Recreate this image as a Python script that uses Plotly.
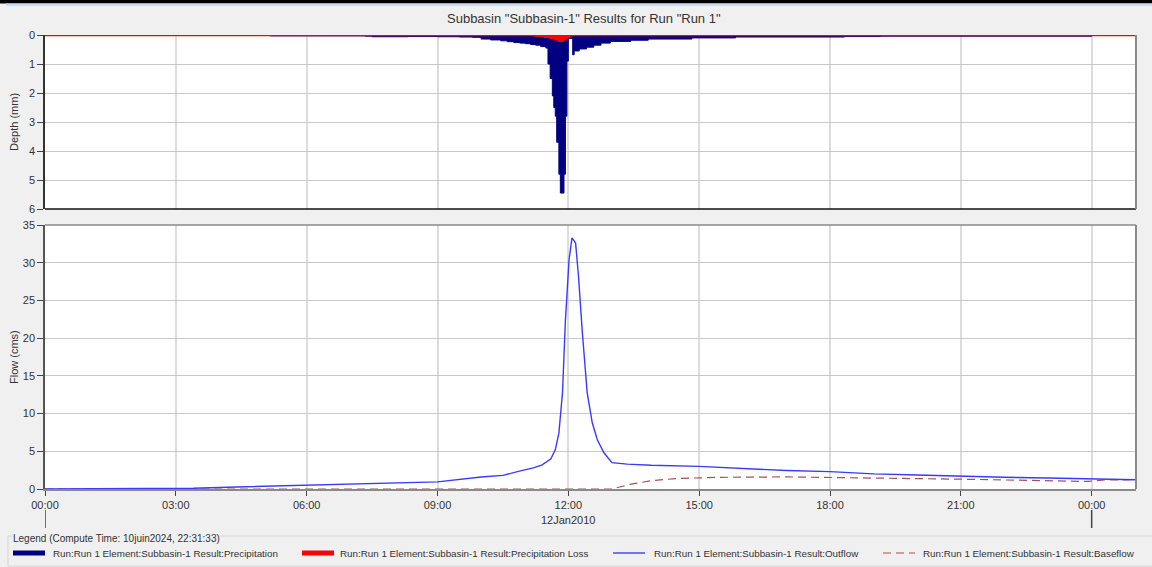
import plotly.graph_objects as go

# ---------------- data ----------------
D1 = "2010-01-12 "
D2 = "2010-01-13 "

precip_time = [D1 + t for t in [
    "00:00", "05:10", "07:20", "07:30", "08:20", "09:00", "09:30", "09:48", "10:00", "10:13",
    "10:27", "10:36", "10:45", "10:53", "11:01", "11:08", "11:15", "11:22", "11:29", "11:32",
    "11:35", "11:38", "11:40", "11:42", "11:44", "11:47", "11:49", "11:54", "11:56", "11:58",
    "12:00", "12:06", "12:08", "12:15", "12:25", "12:35", "12:45", "12:58", "13:26", "13:50",
    "14:50", "15:50", "18:20", "19:10"]] + \
    [D2 + "00:00", D2 + "01:00"]
precip_mm = [0.0, 0.03, 0.04, 0.06, 0.05, 0.06, 0.07, 0.08, 0.14, 0.17,
             0.20, 0.23, 0.26, 0.28, 0.30, 0.33, 0.35, 0.40, 0.45, 1.0,
             1.5, 2.1, 2.5, 2.8, 3.7, 4.8, 5.45, 4.8, 2.8, 0.9,
             0.12, 0.68, 0.55, 0.48, 0.42, 0.35, 0.28, 0.22, 0.18, 0.14,
             0.10, 0.07, 0.05, 0.04,
             0.0, 0.0]

loss_time = [D1 + t for t in ["00:00", "11:15", "11:28", "11:35", "11:42", "11:47",
                              "11:52", "11:56", "11:59", "12:02"]] + [D2 + "01:00"]
loss_mm = [0.0, 0.03, 0.06, 0.10, 0.15, 0.20, 0.15, 0.08, 0.04, 0.0, 0.0]

outflow_time = [D1 + t for t in [
    "00:00", "03:18", "03:24", "04:36", "05:36", "06:30", "07:30", "08:12", "09:00", "10:00",
    "10:30", "10:54", "11:12", "11:24", "11:36", "11:42", "11:47", "11:52", "11:56", "12:01",
    "12:05", "12:10", "12:14", "12:19", "12:26", "12:33", "12:40", "12:49", "13:00", "13:21",
    "13:54", "15:00", "16:00", "17:00", "18:00", "19:00", "20:00", "21:00", "22:00", "23:00"]] + \
    [D2 + "00:00", D2 + "00:24", D2 + "01:00"]
outflow_cms = [0.0, 0.0, 0.1, 0.3, 0.45, 0.55, 0.7, 0.75, 0.95, 1.6,
               1.8, 2.4, 2.8, 3.2, 4.0, 5.2, 7.4, 12.8, 22.4, 30.4,
               33.3, 32.6, 28.2, 21.1, 12.7, 8.75, 6.5, 4.8, 3.5, 3.3,
               3.15, 3.0, 2.7, 2.45, 2.3, 2.0, 1.85, 1.67, 1.55, 1.45,
               1.33, 1.23, 1.23]

baseflow_time = [D1 + t for t in [
    "00:00", "13:00", "13:24", "13:54", "14:30", "15:30", "17:00", "18:00", "19:00", "21:00",
    "22:00", "23:00", "23:54"]] + [D2 + "00:18", D2 + "01:00"]
baseflow_cms = [0.0, 0.0, 0.6, 1.1, 1.4, 1.55, 1.6, 1.55, 1.45, 1.3,
                1.2, 1.05, 1.0, 1.2, 1.23]

x_ticks = [D1 + t for t in ["00:00", "03:00", "06:00", "09:00", "12:00", "15:00", "18:00", "21:00"]] + [D2 + "00:00"]
x_tick_text = ["00:00", "03:00", "06:00", "09:00", "12:00", "15:00", "18:00", "21:00", "00:00"]
day_marks = [D1 + "00:00", D2 + "00:00"]
date_label = "12Jan2010"
date_label_at = D1 + "12:00"

legend_names = [
    "Run:Run 1 Element:Subbasin-1 Result:Precipitation",
    "Run:Run 1 Element:Subbasin-1 Result:Precipitation Loss",
    "Run:Run 1 Element:Subbasin-1 Result:Outflow",
    "Run:Run 1 Element:Subbasin-1 Result:Baseflow",
]

# ---------------- layout helpers ----------------
W, H = 1152, 567
L, R, T, B = 45, 1136, 35, 489
def px(x):
    return (x - L) / (R - L)
def py(y):
    return (B - y) / (B - T)

FONT = "Liberation Sans, Arial, sans-serif"
NAVY = "#000080"
RED = "#ff0000"
BLUE = "#3a3aff"
BROWN = "#a85050"

fig = go.Figure()
fig.add_trace(go.Scatter(x=precip_time, y=precip_mm, mode="lines", line=dict(shape="hv", color=NAVY, width=1),
                         fill="tozeroy", fillcolor=NAVY, xaxis="x", yaxis="y", showlegend=False))
fig.add_trace(go.Scatter(x=loss_time, y=loss_mm, mode="lines", line=dict(shape="hv", color=RED, width=2.5),
                         fill="tozeroy", fillcolor=RED, xaxis="x", yaxis="y", showlegend=False))
fig.add_trace(go.Scatter(x=baseflow_time, y=baseflow_cms, mode="lines", line=dict(color=BROWN, width=1.2, dash="8px,5px"),
                         xaxis="x2", yaxis="y2", showlegend=False))
fig.add_trace(go.Scatter(x=outflow_time, y=outflow_cms, mode="lines", line=dict(color=BLUE, width=1.4),
                         xaxis="x2", yaxis="y2", showlegend=False))

xr = [D1 + "00:00", D2 + "01:01"]
grid_v = "#dcdcdc"
grid_h = "#c8c8c8"
top_dom = [py(209), 1]
bot_dom = [0, py(225)]

fig.update_layout(
    width=W, height=H,
    margin=dict(l=L, r=W - R, t=T, b=H - B),
    paper_bgcolor="#f0f0f0", plot_bgcolor="white",
    font=dict(family=FONT, size=11, color="#333"),
    xaxis=dict(domain=[0, 1], anchor="y", range=xr, type="date", tickvals=x_ticks, showticklabels=False,
               showgrid=True, gridcolor=grid_v, gridwidth=2, ticks="", showline=False, zeroline=False),
    yaxis=dict(domain=top_dom, anchor="x", range=[6, 0], dtick=1, ticks="outside", ticklen=6, tickcolor="#444",
               showline=True, linecolor="#333", linewidth=1.5, gridcolor=grid_h, gridwidth=1, zeroline=False,
               tickfont=dict(size=11, color="#333")),
    xaxis2=dict(domain=[0, 1], anchor="y2", range=xr, type="date", tickvals=x_ticks, ticktext=x_tick_text,
                showgrid=True, gridcolor=grid_v, gridwidth=2, ticks="outside", ticklen=5, tickcolor="#444",
                showline=True, linecolor="#8a8a8a", linewidth=2, zeroline=False, tickfont=dict(size=11, color="#333")),
    yaxis2=dict(domain=bot_dom, anchor="x2", range=[0, 35], dtick=5, ticks="outside", ticklen=6, tickcolor="#444",
                showline=True, linecolor="#555", linewidth=1.5, gridcolor=grid_h, gridwidth=1, zeroline=False,
                tickfont=dict(size=11, color="#333")),
)

shapes = []
# panel borders
shapes.append(dict(type="line", xref="paper", yref="paper", x0=0, x1=1, y0=top_dom[0], y1=top_dom[0],
                   line=dict(color="#111", width=1.5)))
shapes.append(dict(type="line", xref="paper", yref="paper", x0=1, x1=1, y0=top_dom[0], y1=1,
                   line=dict(color="#8a8a8a", width=2)))
shapes.append(dict(type="line", xref="paper", yref="paper", x0=1, x1=1, y0=0, y1=bot_dom[1],
                   line=dict(color="#8a8a8a", width=2)))
shapes.append(dict(type="line", xref="paper", yref="paper", x0=0, x1=1, y0=bot_dom[1], y1=bot_dom[1],
                   line=dict(color="#8a8a8a", width=1.5)))
# day markers
for d in day_marks:
    shapes.append(dict(type="line", xref="x2", yref="paper", x0=d, x1=d, y0=py(510), y1=py(528),
                       line=dict(color="#444", width=1.5)))
# window chrome at top
shapes.append(dict(type="rect", xref="paper", yref="paper", x0=px(-2), x1=px(W + 2), y0=py(-2), y1=py(3.5),
                   line=dict(width=0), fillcolor="black", layer="above"))
shapes.append(dict(type="rect", xref="paper", yref="paper", x0=px(6), x1=px(W + 2), y0=py(3.5), y1=py(6),
                   line=dict(width=0), fillcolor="#c9def4", layer="above"))
# legend box
shapes.append(dict(type="rect", xref="paper", yref="paper", x0=px(8), x1=px(W + 5), y0=py(536), y1=py(566),
                   line=dict(color="#d4d4d4", width=1), fillcolor="rgba(0,0,0,0)"))
# legend swatches
sw_x = [13, 302, 613, 883]
txt_x = [51, 338, 652, 921]
sw_y = 553
sw_styles = [dict(color=NAVY, width=5), dict(color=RED, width=5), dict(color=BLUE, width=1.4),
             dict(color=BROWN, width=1.2, dash="8px,5px")]
for sx, st in zip(sw_x, sw_styles):
    shapes.append(dict(type="line", xref="paper", yref="paper", x0=px(sx), x1=px(sx + 32), y0=py(sw_y), y1=py(sw_y),
                       line=st))
fig.update_layout(shapes=shapes)

def note(text, x, y, size, xanchor="center", **kw):
    return dict(text=text, xref="paper", yref="paper", x=px(x), y=py(y), xanchor=xanchor, yanchor="middle",
                showarrow=False, font=dict(size=size, color="#333"), **kw)

ann = []
ann.append(note('Subbasin "Subbasin-1" Results for Run "Run 1"', 584, 18, 13))
ann.append(note("Depth (mm)", 14, 122, 11, textangle=-90))
ann.append(note("Flow (cms)", 14, 357, 11, textangle=-90))
ann.append(dict(text=date_label, xref="x2", yref="paper", x=date_label_at, y=py(520), xanchor="center",
                yanchor="middle", showarrow=False, font=dict(size=11, color="#333")))
ann.append(note("Legend (Compute Time: 10juin2024, 22:31:33)", 12, 538, 10, xanchor="left",
                bgcolor="#f0f0f0", borderpad=0))
for tx, name in zip(txt_x, legend_names):
    ann.append(note(name, tx, sw_y, 9.8, xanchor="left"))
fig.update_layout(annotations=ann)

fig.write_html("out.html", config={"displayModeBar": False},
               post_script="document.body.style.margin='0';document.body.style.overflow='hidden';")
